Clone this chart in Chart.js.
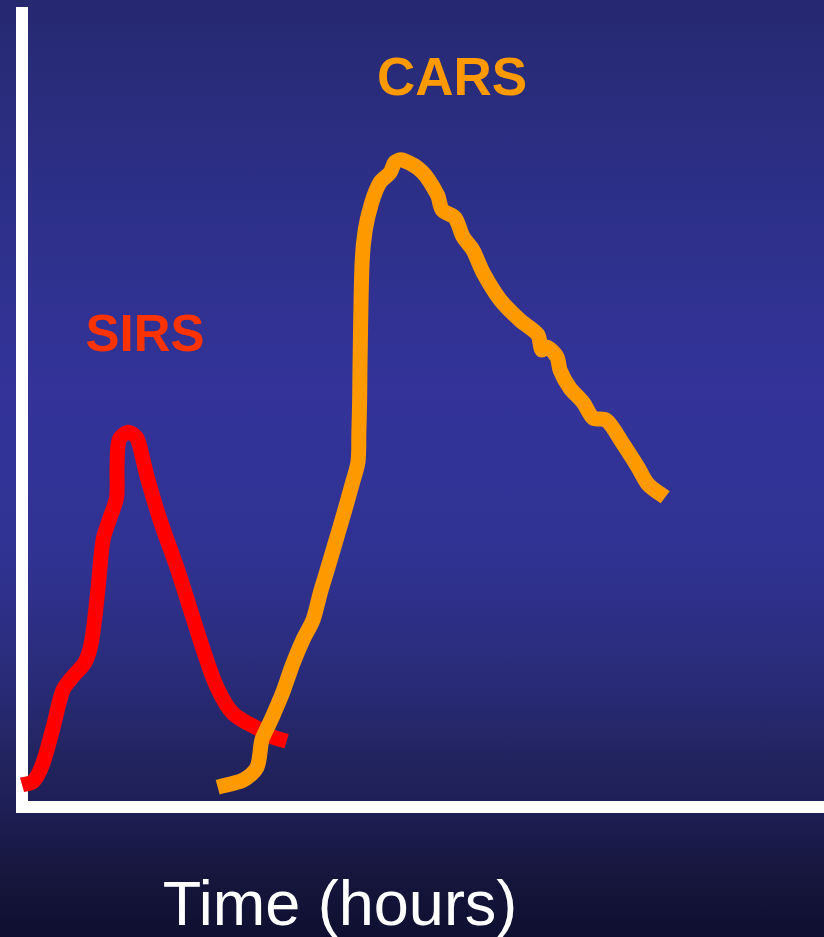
<!DOCTYPE html>
<html>
<head>
<meta charset="utf-8">
<script src="https://cdn.jsdelivr.net/npm/chart.js@4/dist/chart.umd.min.js"></script>
<style>
  html, body { margin: 0; padding: 0; }
  body {
    width: 824px; height: 937px; overflow: hidden; position: relative;
    background: linear-gradient(to bottom,
      #262970 0px, #2c2f86 180px, #333399 390px, #303292 560px,
      #292b78 680px, #22245f 760px, #1e1e56 810px, #17173f 870px, #0f0f30 937px);
    font-family: "Liberation Sans", Arial, sans-serif;
  }
  #wrap { position: absolute; left: 0; top: 0; width: 824px; height: 937px; }
  .lbl { position: absolute; line-height: 1; white-space: nowrap; text-align: center; }
  #sirs { left: 45px; width: 200px; top: 308px; font-size: 51px; font-weight: bold; color: #ff3300; }
  #cars { left: 352px; width: 200px; top: 50px; font-size: 53px; font-weight: bold; color: #ff9900; }
  #xtitle { left: 140px; width: 400px; top: 872px; font-size: 63px; color: #ffffff; }
</style>
</head>
<body>
<div id="wrap"><canvas id="c" width="824" height="937"></canvas></div>
<div class="lbl" id="cars">CARS</div>
<div class="lbl" id="sirs">SIRS</div>
<div class="lbl" id="xtitle">Time (hours)</div>
<script>
// SIRS curve (time in arbitrary hours, response level 0-100)
const sirsTime  = [0, 1.4, 2.6, 3.9, 5.1, 6.4, 7.9, 8.7, 9.5, 10.1, 11.0, 11.8, 11.85, 12.1, 13.2, 14.3, 15.0, 15.6, 17.2, 19.3, 21.3, 22.6, 24.3, 26.3, 29.7, 31.3, 33.0];
const sirsLevel = [2.8, 3.2, 5.5, 10.1, 14.7, 16.5, 18.3, 21.0, 27.7, 33.6, 36.5, 39.0, 42.8, 46.2, 47.2, 46.5, 44.1, 41.6, 36.2, 30.2, 23.9, 19.8, 15.1, 11.8, 9.7, 8.8, 8.3];

// CARS curve
const carsTime  = [24.4, 27.6, 29.3, 29.9, 30.6, 31.2, 32.5, 33.8, 35.0, 36.3, 37.2, 37.8, 38.8, 40.0, 41.2, 41.9, 42.0, 42.1, 42.15, 42.4, 42.8, 43.6, 44.6, 45.9, 46.5, 47.4, 49.9, 51.8, 52.4, 54.0, 55.0, 56.2, 57.5, 59.6, 62.1, 64.3, 64.8, 65.5, 66.7, 67.1, 68.3, 70.0, 71.2, 72.9, 74.9, 76.8, 78.1, 80.2];
const carsLevel = [2.5, 3.4, 5.0, 8.4, 10.0, 11.3, 14.4, 18.1, 21.0, 23.6, 27.0, 29.0, 32.4, 36.5, 40.8, 43.5, 47.1, 51.3, 55.9, 68.5, 72.7, 76.1, 78.6, 79.9, 81.2, 81.5, 80.0, 77.1, 75.2, 74.2, 71.8, 70.2, 67.3, 63.9, 61.3, 59.5, 57.6, 57.9, 56.7, 55.0, 52.8, 50.9, 49.0, 48.7, 45.8, 42.8, 40.6, 39.0];

const toPoints = (xs, ys) => xs.map((x, i) => ({ x: x, y: ys[i] }));

new Chart(document.getElementById('c'), {
  type: 'line',
  data: {
    datasets: [
      {
        label: 'SIRS',
        data: toPoints(sirsTime, sirsLevel),
        borderColor: '#ff0000',
        borderWidth: 15,
        tension: 0.3,
        pointRadius: 0,
        borderCapStyle: 'butt',
        borderJoinStyle: 'round',
        fill: false,
        clip: false,
        order: 1
      },
      {
        label: 'CARS',
        data: toPoints(carsTime, carsLevel),
        borderColor: '#ff9900',
        borderWidth: 15,
        tension: 0.3,
        pointRadius: 0,
        borderCapStyle: 'butt',
        borderJoinStyle: 'round',
        fill: false,
        clip: false,
        order: 0
      }
    ]
  },
  options: {
    responsive: false,
    devicePixelRatio: 1,
    animation: false,
    elements: { line: { borderWidth: 15 } },
    layout: { padding: { left: 22, top: 13, right: 0, bottom: 130 } },
    plugins: { legend: { display: false }, tooltip: { enabled: false }, title: { display: false } },
    scales: {
      x: {
        type: 'linear', min: 0, max: 100,
        ticks: { display: false },
        grid: { display: false, drawTicks: false },
        border: { display: true, color: '#ffffff', width: 12 }
      },
      y: {
        type: 'linear', min: 0, max: 100,
        ticks: { display: false },
        grid: { display: false, drawTicks: false },
        border: { display: true, color: '#ffffff', width: 12 }
      }
    }
  }
});
</script>
</body>
</html>
